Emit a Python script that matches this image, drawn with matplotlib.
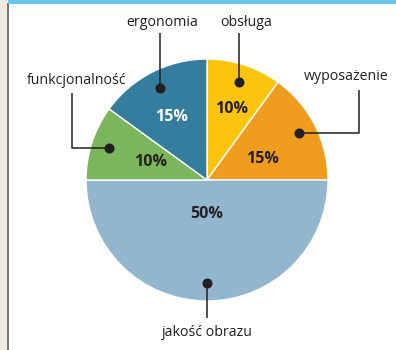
import numpy as np
import matplotlib.pyplot as plt
from matplotlib.patches import Rectangle

labels = ["obsługa", "wyposażenie", "jakość obrazu", "funkcjonalność", "ergonomia"]
shares = [10, 15, 50, 10, 15]
colors = ["#fcc40d", "#ef9c1f", "#93b6cf", "#7ab65b", "#347d9f"]
pct_colors = ["#231f20", "#231f20", "#231f20", "#231f20", "#ffffff"]

W, H = 396, 350
cx, cy, R = 207, H - 180, 121

fig = plt.figure(figsize=(W / 100, H / 100), dpi=100)
ax = fig.add_axes([0, 0, 1, 1])

wedges, _ = ax.pie(shares, colors=colors, startangle=90, counterclock=False,
                   center=(cx, cy), radius=R,
                   wedgeprops=dict(edgecolor="white", linewidth=1.0))
ax.set_xlim(0, W)
ax.set_ylim(0, H)
ax.set_aspect("equal")
ax.set_axis_off()

# page decoration: beige margin, grey rule, cyan top bar
ax.add_patch(Rectangle((0, 0), 7, H, color="#eeeae1", lw=0, zorder=0))
ax.add_patch(Rectangle((7, 0), 1.6, H - 3, color="#777777", lw=0, zorder=0))
ax.add_patch(Rectangle((8, H - 3.5), W, 3.5, color="#6cc5ec", lw=0, zorder=0))

def mid_point(w, frac):
    a = np.deg2rad((w.theta1 + w.theta2) / 2)
    return cx + frac * R * np.cos(a), cy + frac * R * np.sin(a)

# percentage labels (radial fraction / angular shift per slice)
pct_pos = [(0.62, -1), (0.49, -6), (0.28, 0), (0.49, 0), (0.6, 2)]
for w, s, c, (fr, da) in zip(wedges, shares, pct_colors, pct_pos):
    a = np.deg2rad((w.theta1 + w.theta2) / 2 + da)
    ax.text(cx + fr * R * np.cos(a), cy + fr * R * np.sin(a), f"{s}%",
            ha="center", va="center", fontsize=11.5, fontweight="bold",
            color=c, family="Open Sans")

line_kw = dict(color="#231f20", lw=1.1, solid_capstyle="butt", zorder=5)
txt_kw = dict(fontsize=10.2, color="#231f20", family="Open Sans",
              ha="center", va="center")

# leader lines: (label x, label y, elbow path after the dot)
for i, w in enumerate(wedges):
    dx, dy = mid_point(w, 0.85)
    name = labels[i]
    if name in ("obsługa", "ergonomia"):
        xs, ys = [dx, dx], [dy, H - 33]
        tx, ty = dx + (7 if name == "obsługa" else 2), H - 22
    elif name == "wyposażenie":
        xs, ys = [dx, 359, 359], [dy, dy, H - 90]
        tx, ty = 346, H - 77
    elif name == "funkcjonalność":
        xs, ys = [dx, 72, 72], [dy, dy, H - 93]
        tx, ty = 77, H - 81
    else:
        xs, ys = [dx, dx], [dy, H - 318]
        tx, ty = dx, H - 332
    ax.plot(xs, ys, **line_kw)
    ax.plot(dx, dy, "o", color="#231f20", ms=6.2, zorder=6)
    ax.text(tx, ty, name, **txt_kw)

fig.savefig("out.png", dpi=100)
